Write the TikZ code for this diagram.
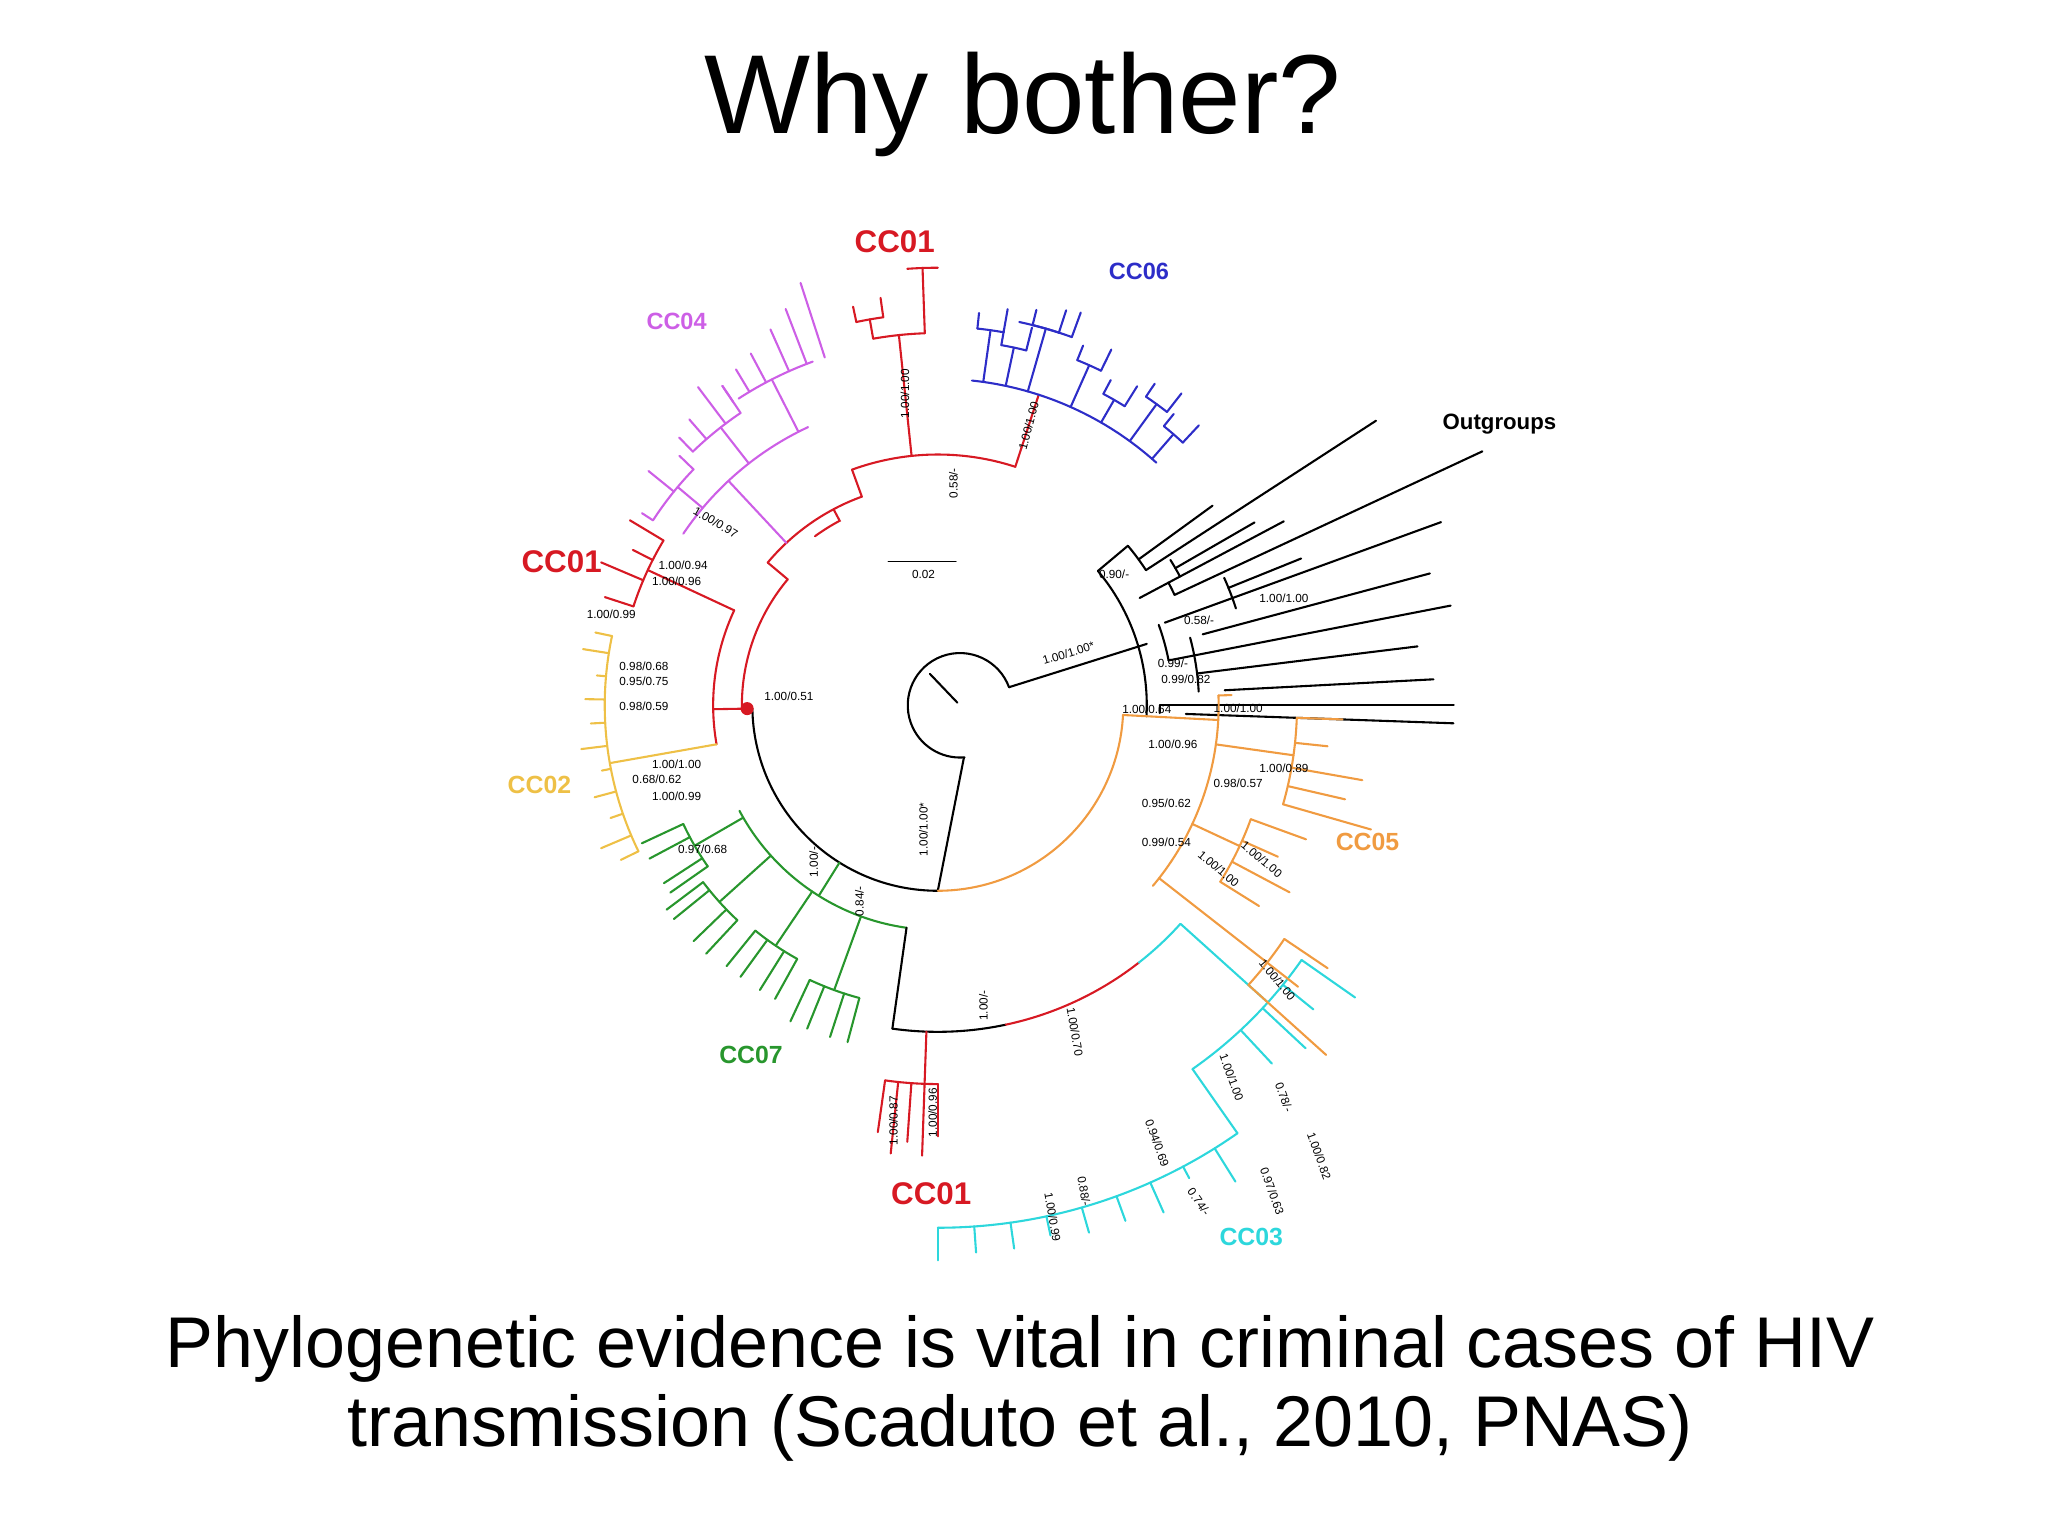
\documentclass[tikz,border=0pt]{standalone}
\usepackage{fontspec}
\setmainfont{Liberation Sans}
\begin{document}
\begin{tikzpicture}[x=1pt,y=1pt,line width=1.6pt,line cap=round]
\definecolor{cr}{RGB}{215,25,35}
\definecolor{cb}{RGB}{45,45,200}
\definecolor{cmag}{RGB}{205,95,230}
\definecolor{cy}{RGB}{238,192,70}
\definecolor{cg}{RGB}{40,150,45}
\definecolor{co}{RGB}{240,155,65}
\definecolor{cc}{RGB}{45,215,220}
\tikzset{clab/.style={font=\bfseries\fontsize{24}{26}\selectfont},
 sl/.style={font=\fontsize{9}{10}\selectfont,inner sep=1pt}}
\newcommand\Arc[4]{\draw[#1] (#3:#2pt) arc[start angle=#3,end angle=#4,radius=#2pt];}
\newcommand\Rad[4]{\draw[#1] (#2:#3pt) -- (#2:#4pt);}
\useasboundingbox (0,0) rectangle (1568,1175);
\node (title) at (783,1095) {\fontsize{86}{90}\selectfont Why bother?};
\node (cap1) at (781,142) {\fontsize{55}{59}\selectfont Phylogenetic evidence is vital in criminal cases of HIV};
\node (cap2) at (781,82) {\fontsize{55}{59}\selectfont transmission (Scaduto et al., 2010, PNAS)};
\begin{scope}[shift={(718,635)}]
% root
\draw (17,0)+(20:40pt) arc[start angle=20,end angle=275,radius=40pt];
\draw (-6,24)--(15,2);
\draw (55,14)--(160,47);
\draw (20,-40)--(0,-142);
\Arc{black}{142}{181}{270}
\Arc{co}{142}{270}{357}
% red backbone
\Rad{cr}{181}{142}{172}
\Arc{cr}{150}{181}{140}
\Rad{cr}{140}{150}{170}
\Arc{cr}{170}{140}{110}
\Rad{cr}{110}{170}{192}
\Arc{cr}{192}{110}{72}
\draw[cr] (126:160pt) arc[start angle=126,end angle=118,radius=160pt] -- (118:170pt);
\fill[cr] (181:146pt) circle (5pt);
% CC01 top
\Rad{cr}{96}{192}{285}
\Arc{cr}{285}{92}{100}
\Rad{cr}{92}{285}{335}
\Rad{cr}{100}{285}{300}
\Arc{cr}{300}{98}{102}
\Rad{cr}{98}{300}{315}\Rad{cr}{102}{300}{312}
\Arc{cr}{335}{90}{94}
% CC06
\Rad{cr}{72}{192}{250}
\Arc{cb}{250}{84}{48}
\foreach \a/\r/\s in {82/250/290,78/250/280,74/250/300,66/250/285,60/250/270,54/250/285,49/250/275}{
 \Rad{cb}{\a}{\r}{\s}
 \Arc{cb}{\s}{\a-2}{\a+2}
 \Rad{cb}{\a-2}{\s}{\s+18}\Rad{cb}{\a+2}{\s}{\s+12}}
\Arc{cb}{300}{70}{78}
\Rad{cb}{70}{300}{320}
% outgroups
\Arc{black}{160}{-3}{40}
\foreach \a/\r/\s in {40/160/190,33/190/400,36/190/260,28/175/300,25/200/460,20/185/410,15/210/390,11/180/400,7/200/370,3/220/380,0/170/395,-2/190/395,30/210/280,22/240/300}{
 \Rad{black}{\a}{\r}{\s}}
\Arc{black}{190}{33}{40}
\Arc{black}{200}{25}{28}
\Arc{black}{180}{11}{20}
\Arc{black}{200}{3}{15}
\Arc{black}{170}{-2}{0}
\Arc{black}{240}{18}{24}
\Arc{black}{210}{28}{32}
% left: CC02
\Arc{cr}{172}{190}{155}
\Rad{cy}{190}{172}{255}
\Arc{cy}{255}{168}{206}
\foreach \a/\s in {168/268,171/275,175/262,179/270,183/266,187/275,191/262,195/272,199/265,203/280,206/270}{\Rad{cy}{\a}{255}{\s}}
% CC01 left
\Rad{cr}{155}{172}{245}
\Arc{cr}{245}{149}{162}
\foreach \a/\s in {149/275,153/262,157/280,162/268}{\Rad{cr}{\a}{245}{\s}}
% CC04
\Rad{cmag}{133}{170}{235}
\Arc{cmag}{235}{115}{146}
\foreach \a/\r/\s in {117/235/280,128/235/270,140/235/260}{\Rad{cmag}{\a}{\r}{\s}}
\Arc{cmag}{280}{110}{123}
\foreach \a/\s in {108/340,111/325,114/315,118/305,121/300,124/295}{\Rad{cmag}{\a}{280}{\s}}
\Arc{cmag}{270}{124}{134}
\foreach \a/\s in {124/295,127/305,131/290,134/285}{\Rad{cmag}{\a}{270}{\s}}
\Arc{cmag}{260}{136}{147}
\foreach \a/\s in {136/275,141/285,147/270}{\Rad{cmag}{\a}{260}{\s}}
% CC07 green
\Rad{cg}{238}{142}{172}
\Arc{cg}{172}{208}{262}
\Rad{black}{262}{172}{250}
\foreach \a/\r/\s in {210/172/215,222/172/225,236/172/222,250/172/232}{\Rad{cg}{\a}{\r}{\s}\Arc{cg}{\s}{\a-5}{\a+5}}
\foreach \a/\r in {205/215,208/215,213/215,215/215,217/225,219/225,224/225,227/225,231/222,234/222,238/222,241/222,245/232,248/232,252/232,255/232}{\Rad{cg}{\a}{\r}{\r+35}}
% CC01 bottom / CC03
\Arc{black}{250}{262}{282}
\Arc{cr}{250}{282}{308}
\Arc{cc}{250}{308}{318}
\Rad{cr}{268}{250}{290}
\Arc{cr}{290}{262}{270}
\foreach \a/\s in {262/330,264/345,266/335,268/345,270/330}{\Rad{cr}{\a}{290}{\s}}
\Rad{cc}{318}{250}{340}
\Arc{cc}{340}{305}{325}
\Rad{cc}{305}{340}{400}
\Arc{cc}{400}{270}{305}
\foreach \a/\s in {270/425,274/420,278/420,282/415,286/420,290/420,294/425,298/410,302/430}{\Rad{cc}{\a}{400}{\s}}
\foreach \a/\s in {313/375,317/385,321/370,325/390}{\Rad{cc}{\a}{340}{\s}}
% CC05
\Rad{co}{357}{142}{215}
\Arc{co}{215}{2}{-40}
\Rad{co}{2}{215}{225}
\Rad{co}{-8}{215}{275}\Arc{co}{275}{-2}{-16}
\foreach \a/\s in {-2/310,-6/300,-10/330,-13/320,-16/345}{\Rad{co}{\a}{275}{\s}}
\Rad{co}{-25}{215}{255}\Arc{co}{255}{-20}{-32}
\foreach \a/\s in {-20/300,-24/285,-28/305,-32/290}{\Rad{co}{\a}{255}{\s}}
\Rad{co}{-38}{215}{320}\Arc{co}{320}{-34}{-42}
\foreach \a/\s in {-34/360,-38/350,-42/400}{\Rad{co}{\a}{320}{\s}}
% scale bar
\draw[line width=1pt] (-38,110)--(14,110);
\node[sl] (sc) at (-11,100) {0.02};
% support labels
\node[sl,rotate=90] at (96:240pt) {1.00/1.00};
\node[sl,rotate=90] at (12,170) {0.58/-};
\node[sl,rotate=75] at (72:225pt) {1.00/1.00};
\node[sl,rotate=17] at (100,40) {1.00/1.00*};
\node[sl] at (-114,7) {1.00/0.51};
\node[sl,rotate=90] at (-11,-95) {1.00/1.00*};
\node[sl,rotate=-30] at (-170,140) {1.00/0.97};
\node[sl] at (-225,30) {0.98/0.68};
\node[sl] at (-225,18) {0.95/0.75};
\node[sl] at (-225,-1) {0.98/0.59};
\node[sl] at (-200,-45) {1.00/1.00};
\node[sl] at (-215,-57) {0.68/0.62};
\node[sl] at (-200,-70) {1.00/0.99};
\node[sl] at (-180,-110) {0.97/0.68};
\node[sl] at (-195,107) {1.00/0.94};
\node[sl] at (-200,95) {1.00/0.96};
\node[sl] at (-250,70) {1.00/0.99};
\node[sl] at (230,-2) {1.00/1.00};
\node[sl] at (180,-30) {1.00/0.96};
\node[sl] at (160,-3) {1.00/0.64};
\node[sl] at (190,20) {0.99/0.82};
\node[sl] at (180,32) {0.99/-};
\node[sl] at (200,65) {0.58/-};
\node[sl] at (265,82) {1.00/1.00};
\node[sl] at (135,100) {0.90/-};
\node[sl] at (265,-48) {1.00/0.89};
\node[sl] at (230,-60) {0.98/0.57};
\node[sl] at (175,-75) {0.95/0.62};
\node[sl] at (175,-105) {0.99/0.54};
\node[sl,rotate=-40] at (248,-118) {1.00/1.00};
\node[sl,rotate=-40] at (215,-125) {1.00/1.00};
\node[sl,rotate=-50] at (260,-210) {1.00/1.00};
\node[sl,rotate=90] at (-60,-150) {0.84/-};
\node[sl,rotate=90] at (-95,-120) {1.00/-};
\node[sl,rotate=90] at (35,-230) {1.00/-};
\node[sl,rotate=-80] at (105,-250) {1.00/0.70};
\node[sl,rotate=-70] at (225,-285) {1.00/1.00};
\node[sl,rotate=-70] at (265,-300) {0.78/-};
\node[sl,rotate=90] at (-4,-312) {1.00/0.96};
\node[sl,rotate=90] at (-34,-318) {1.00/0.87};
\node[sl,rotate=-70] at (168,-335) {0.94/0.69};
\node[sl,rotate=-55] at (200,-380) {0.74/-};
\node[sl,rotate=-70] at (292,-345) {1.00/0.82};
\node[sl,rotate=-70] at (256,-372) {0.97/0.63};
\node[sl,rotate=-80] at (112,-372) {0.88/-};
\node[sl,rotate=-80] at (88,-392) {1.00/0.99};
\end{scope}
\node[clab,text=cr] (l1) at (685,990) {CC01};
\node[clab,text=cb,font=\bfseries\fontsize{18}{20}\selectfont] (l6) at (872,967) {CC06};
\node[clab,text=cmag,font=\bfseries\fontsize{18}{20}\selectfont] (l4) at (518,929) {CC04};
\node[font=\bfseries\fontsize{17}{19}\selectfont] (lo) at (1148,850) {Outgroups};
\node[clab,text=cr] (l1b) at (430,745) {CC01};
\node[clab,text=cy,font=\bfseries\fontsize{19}{21}\selectfont] (l2) at (413,574) {CC02};
\node[clab,text=co,font=\bfseries\fontsize{19}{21}\selectfont] (l5) at (1047,530) {CC05};
\node[clab,text=cg,font=\bfseries\fontsize{19}{21}\selectfont] (l7) at (575,367) {CC07};
\node[clab,text=cr] (l1c) at (713,261) {CC01};
\node[clab,text=cc,font=\bfseries\fontsize{19}{21}\selectfont] (l3) at (958,228) {CC03};
\end{tikzpicture}
\end{document}
